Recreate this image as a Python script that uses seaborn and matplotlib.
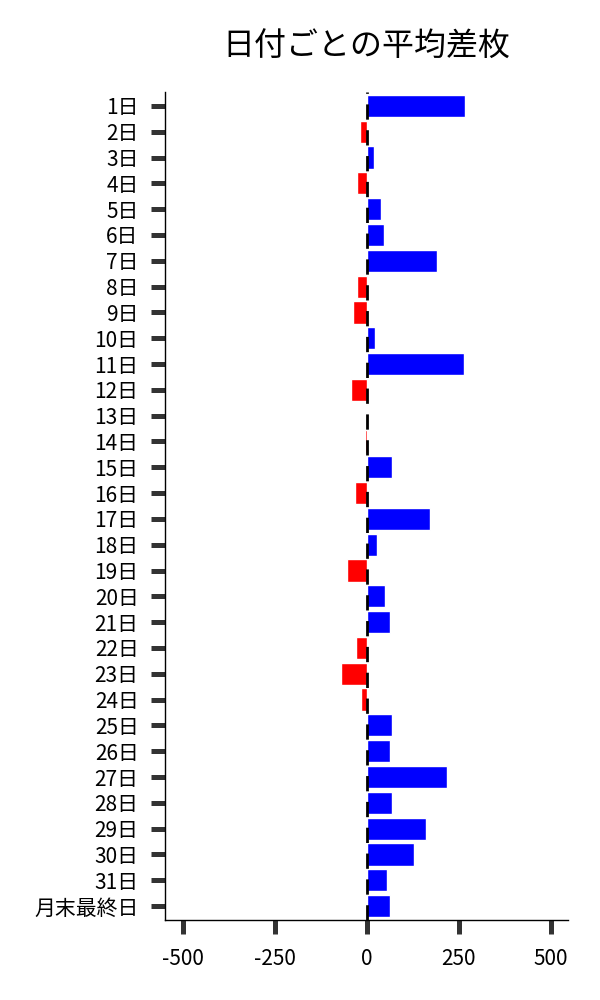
import pandas as pd
import matplotlib
matplotlib.use("Agg")
import matplotlib.pyplot as plt
import seaborn as sns

# day labels and average difference per day
days = [f"{i}日" for i in range(1, 32)] + ["月末最終日"]
avg_diff = [266, -19, 19, -27, 38, 46, 190, -27, -38, 21,
            264, -43, -2, -5, 67, -33, 173, 26, -54, 48,
            64, -30, -71, -16, 67, 62, 219, 67, 160, 127,
            54, 62]
x_ticks = [-500, -250, 0, 250, 500]

sns.set_style("white")
plt.rcParams['font.family'] = ['Noto Sans CJK JP', 'DejaVu Sans']
plt.rcParams['text.color'] = 'black'
plt.rcParams['xtick.labelcolor'] = 'black'
plt.rcParams['ytick.labelcolor'] = 'black'

df = pd.DataFrame({'day': days, 'diff': avg_diff})
df['sign'] = ['pos' if v >= 0 else 'neg' for v in df['diff']]

fig = plt.figure(figsize=(6, 10), dpi=100)
ax = fig.add_axes([0.275, 0.08, 0.672, 0.828])

sns.barplot(data=df, y='day', x='diff', hue='sign', order=days,
            palette={'pos': '#0000ff', 'neg': '#ff0000'},
            dodge=False, width=0.86, legend=False, saturation=1, ax=ax)
ax.axvline(0, color='black', linewidth=2, dashes=(5.5, 3.8), zorder=3)

ax.set_xlim(-550, 548)
ax.set_ylim(len(days) - 0.46, -0.54)
ax.set_xticks(x_ticks)
ax.set_xticklabels([str(t) for t in x_ticks])
ax.set_xlabel('')
ax.set_ylabel('')
ax.set_title('日付ごとの平均差枚', fontsize=23, pad=26, color='black')

ax.tick_params(axis='both', which='major', bottom=True, left=True,
               length=10, width=3.6, color='#333333', labelsize=15)
ax.tick_params(axis='y', pad=9)
ax.tick_params(axis='x', pad=10)
for side in ['left', 'bottom']:
    ax.spines[side].set_color('black')
    ax.spines[side].set_linewidth(1)
sns.despine(ax=ax)

fig.savefig('out.png', dpi=100)
